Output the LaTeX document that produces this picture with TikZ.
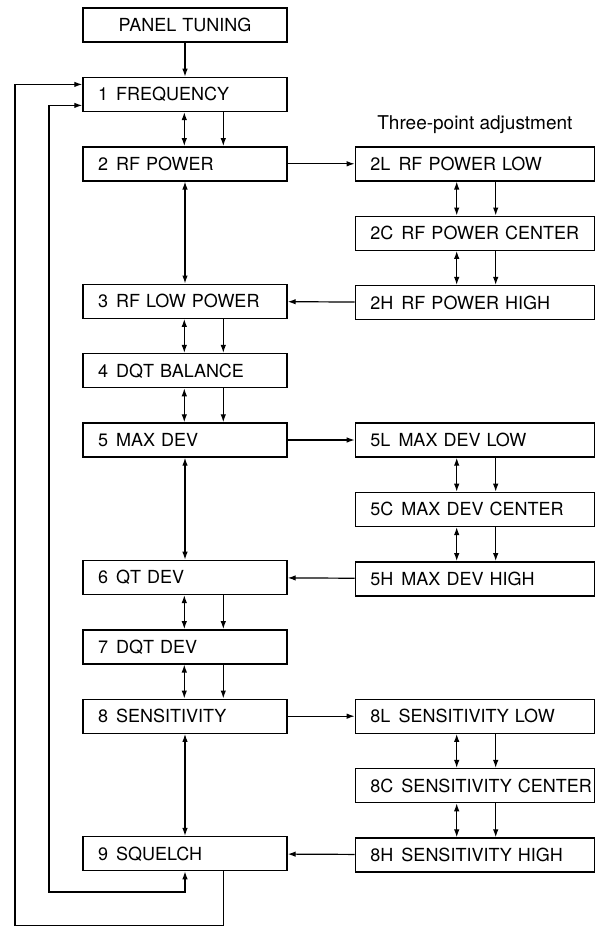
\documentclass[tikz,border=0pt]{standalone}
\usepackage{fontspec}
\setmainfont{TeX Gyre Heros}
\usetikzlibrary{positioning,arrows.meta}
\tikzstyle{block}=[rectangle, draw=black, line width=1.4pt, minimum height=34pt,
        inner xsep=0pt, inner ysep=0pt, text height=13pt, text depth=0pt,
        font=\fontsize{18}{20}\selectfont]
\tikzstyle{start}=[block, text width=204pt, align=center]
\tikzstyle{stage}=[block, text width=204pt, align=left,
        execute at begin node=\hspace*{15pt}\hbox\bgroup, execute at end node=\egroup]
\tikzstyle{point}=[stage, text width=239pt]
\tikzstyle{one}=[line width=1.2pt, -{Latex[length=8pt,width=5.5pt]}]
\tikzstyle{two}=[line width=1.2pt, {Latex[length=8pt,width=5.5pt]}-{Latex[length=8pt,width=5.5pt]}]
\newcommand{\stepgap}{\hspace{0.45em}}

\begin{document}
\begin{tikzpicture}[x=1pt, y=1pt, node distance=34pt]
  \useasboundingbox (0,0) rectangle (597,-927);
  % main sequence
  \node (Panel) [start] at (185,-25) {PANEL TUNING};
  \node (Freq) [stage, below=of Panel] {1\stepgap FREQUENCY};
  \node (RFPower) [stage, below=of Freq] {2\stepgap RF POWER};
  \node (RFLow) [stage, below=102pt of RFPower] {3\stepgap RF LOW POWER};
  \node (DQTBal) [stage, below=of RFLow] {4\stepgap DQT BALANCE};
  \node (MaxDev) [stage, below=of DQTBal] {5\stepgap MAX DEV};
  \node (QTDev) [stage, below=102pt of MaxDev] {6\stepgap QT DEV};
  \node (DQTDev) [stage, below=of QTDev] {7\stepgap DQT DEV};
  \node (Sens) [stage, below=of DQTDev] {8\stepgap SENSITIVITY};
  \node (Squelch) [stage, below=102pt of Sens] {9\stepgap SQUELCH};
  % three-point adjustments
  \node (RFPowLow) [point, right=67pt of RFPower] {2L\stepgap RF POWER LOW};
  \node (RFPowCen) [point, below=of RFPowLow] {2C\stepgap RF POWER CENTER};
  \node (RFPowHigh) [point, below=of RFPowCen] {2H\stepgap RF POWER HIGH};
  \node (MaxDevLow) [point, right=67pt of MaxDev] {5L\stepgap MAX DEV LOW};
  \node (MaxDevCen) [point, below=of MaxDevLow] {5C\stepgap MAX DEV CENTER};
  \node (MaxDevHigh) [point, below=of MaxDevCen] {5H\stepgap MAX DEV HIGH};
  \node (SensLow) [point, right=67pt of Sens] {8L\stepgap SENSITIVITY LOW};
  \node (SensCen) [point, below=of SensLow] {8C\stepgap SENSITIVITY CENTER};
  \node (SensHigh) [point, below=of SensCen] {8H\stepgap SENSITIVITY HIGH};
  \node (ThreePoint) [above=12pt of RFPowLow, inner sep=0pt,
        font=\fontsize{19}{20}\selectfont] {Three-point adjustment};

  \draw[one] (Panel) -- (Freq);
  \foreach \a/\b in {Freq/RFPower, RFLow/DQTBal, DQTBal/MaxDev, QTDev/DQTDev,
      DQTDev/Sens, RFPowLow/RFPowCen, RFPowCen/RFPowHigh, MaxDevLow/MaxDevCen,
      MaxDevCen/MaxDevHigh, SensLow/SensCen, SensCen/SensHigh}
  {
    \draw[two] ([xshift=102pt]\a.south west) -- ([xshift=102pt]\b.north west);
    \draw[one] ([xshift=141pt]\a.south west) -- ([xshift=141pt]\b.north west);
  }
  \foreach \m/\l/\h/\n in {RFPower/RFPowLow/RFPowHigh/RFLow,
      MaxDev/MaxDevLow/MaxDevHigh/QTDev, Sens/SensLow/SensHigh/Squelch}
  {
    \draw[two] (\m) -- (\n);
    \draw[one] (\m) -- (\l);
    \draw[one] (\h) -- (\n);
  }
  % return loops
  \coordinate (OuterCorner) at (15,-925.5);
  \coordinate (InnerCorner) at (49,-892);
  \draw[one] ([xshift=141pt]Squelch.south west) |- (OuterCorner) |- ([yshift=10pt]Freq.west);
  \draw[two] ([yshift=-11pt]Freq.west) -| (InnerCorner) -| (Squelch.south);
\end{tikzpicture}
\end{document}
